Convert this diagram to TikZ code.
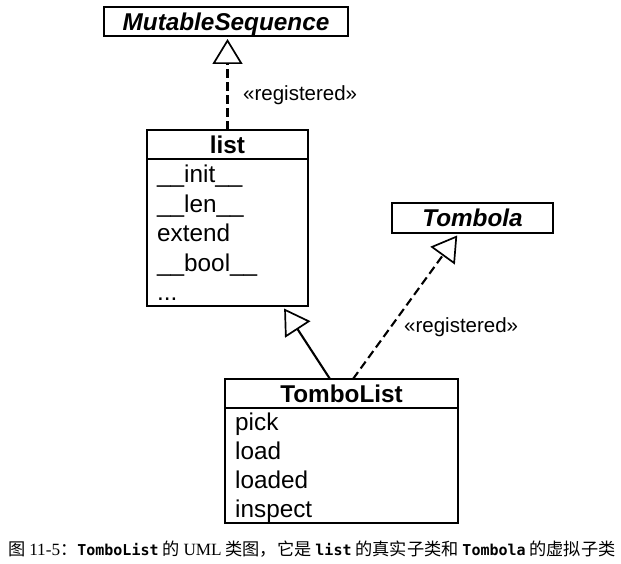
\documentclass[tikz,border=0pt]{standalone}
\usepackage{fontspec}
\setmainfont{Liberation Sans}
\newfontfamily\cjkfont{Noto Sans CJK SC}
\newfontfamily\capserif{Liberation Serif}
\newfontfamily\capmono{DejaVu Sans Mono}
\usetikzlibrary{arrows.meta}
\newcommand{\capcode}[1]{{\capmono\bfseries\fontsize{15}{20}\selectfont #1}}

\begin{document}
\begin{tikzpicture}[x=1pt, y=-1pt,
    every node/.style={font=\fontsize{24.3}{29}\selectfont},
    classhead/.style={draw, line width=2.1pt, inner sep=0pt, outer sep=0pt, text height=17.4pt, text depth=0pt, font=\fontsize{24.3}{29}\selectfont\bfseries},
    classbody/.style={draw, line width=2.1pt, inner sep=0pt, outer sep=0pt},
    member/.style={anchor=base west, inner sep=0pt},
    inherit/.style={line width=2.1pt, -{Triangle[open, length=25pt, width=30pt, line width=1.7pt]}, shorten >=3pt},
    realize/.style={inherit, dash pattern=on 8.5pt off 4.5pt},
    stereo/.style={anchor=west, inner sep=0pt, font=\fontsize{20.5}{24}\selectfont}]
    \useasboundingbox (0,0) rectangle (621,564);

    % Abstract classes
    \node[classhead, minimum width=244pt, minimum height=29pt, font=\fontsize{24.3}{29}\selectfont\bfseries\itshape] (mutseq) at (226,21.5) {MutableSequence};
    \node[classhead, minimum width=161pt, minimum height=30pt, font=\fontsize{24.3}{29}\selectfont\bfseries\itshape] (tombola) at (472.5,218) {Tombola};

    % list
    \node[classhead, minimum width=161pt, minimum height=29pt] (list) at (227.5,144.5) {list};
    \node[classbody, minimum width=161pt, minimum height=147pt, anchor=north] (listbody) at (list.south) {};
    \node[member] (init) at (157,183) {\_\_init\_\_};
    \node[member] (len) at (157,212.5) {\_\_len\_\_};
    \node[member] (extend) at (157,241.5) {extend};
    \node[member] (bool) at (157,271) {\_\_bool\_\_};
    \node[member] (more) at (157,300.5) {...};

    % TomboList
    \node[classhead, minimum width=233pt, minimum height=29pt] (tombolist) at (341.5,393.5) {TomboList};
    \node[classbody, minimum width=233pt, minimum height=115pt, anchor=north] (tlbody) at (tombolist.south) {};
    \node[member] (pick) at (235,430.5) {pick};
    \node[member] (load) at (235,459.5) {load};
    \node[member] (loaded) at (235,488.5) {loaded};
    \node[member] (inspect) at (235,517.5) {inspect};

    % Relations
    \draw[realize] (list.north) -- (list.north |- mutseq.south);
    \node[stereo] (reg1) at (243,95) {«registered»};
    \draw[inherit] ([xshift=-11.5pt]tombolist.north) -- ([xshift=55pt]listbody.south);
    \draw[realize] ([xshift=11.5pt]tombolist.north) -- ([xshift=-13.5pt]tombola.south);
    \node[stereo] (reg2) at (404,327) {«registered»};

    % Caption
    \node[anchor=base west, inner sep=0pt, font=\cjkfont\fontsize{17.2}{20}\selectfont] (caption) at (8,555)
        {图 {\capserif 11-5}：\capcode{TomboList} 的 {\capserif UML} 类图，它是 \capcode{list} 的真实子类和 \capcode{Tombola} 的虚拟子类};
\end{tikzpicture}
\end{document}
